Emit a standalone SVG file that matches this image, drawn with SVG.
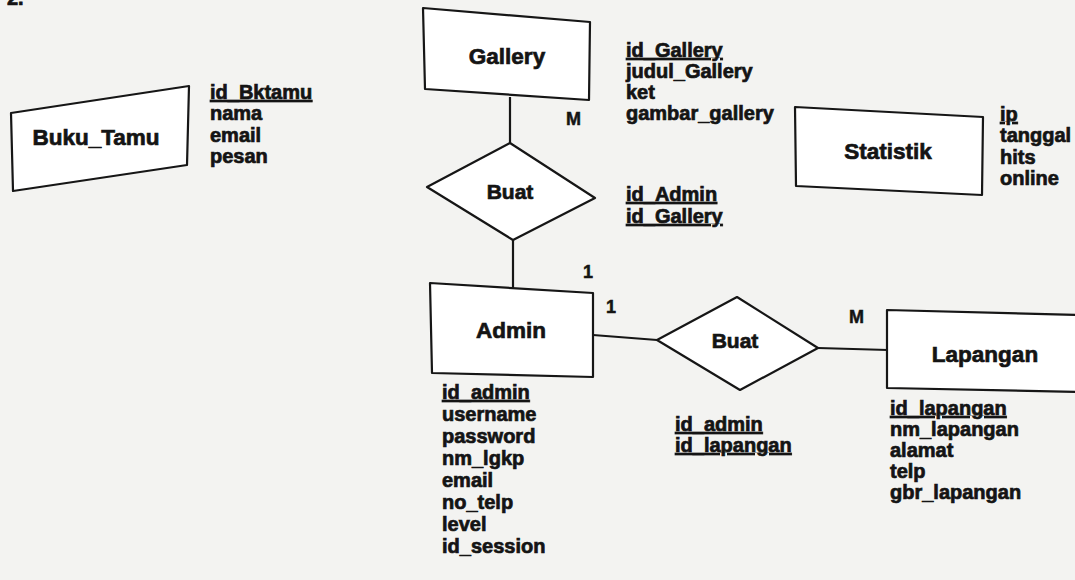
<svg xmlns="http://www.w3.org/2000/svg" width="1075" height="580" viewBox="0 0 1075 580">
  <style>
    .ent { fill: #ffffff; stroke: #161616; stroke-width: 2.2; stroke-linejoin: round; }
    .rel { fill: #ffffff; stroke: #161616; stroke-width: 2.2; stroke-linejoin: round; }
    .conn line { stroke: #161616; stroke-width: 2.2; }
    .lbl { font-family: "Liberation Sans", Arial, sans-serif; font-weight: bold; font-size: 22.5px; fill: #141414; stroke: #141414; stroke-width: 0.7; text-anchor: middle; }
    .attr { font-family: "Liberation Sans", Arial, sans-serif; font-weight: bold; font-size: 20px; fill: #141414; stroke: #141414; stroke-width: 0.7; }
    .key { text-decoration: underline; }
    .card { font-family: "Liberation Sans", Arial, sans-serif; font-weight: bold; font-size: 18px; fill: #141414; stroke: #141414; stroke-width: 0.5; }
  </style>

  <!-- paper -->
  <rect x="0" y="0" width="1075" height="580" fill="#f3f3f1"/>

  <!-- section number, cut at the top edge -->
  <text class="attr" x="7" y="5">2.</text>

  <!-- connectors -->
  <g id="connectors" class="conn">
    <line x1="510" y1="97" x2="510" y2="143"/>
    <line x1="513" y1="240" x2="513" y2="288"/>
    <line x1="593" y1="335" x2="657" y2="340"/>
    <line x1="818" y1="348" x2="888" y2="350"/>
  </g>

  <!-- cardinalities -->
  <g id="cardinality">
    <text class="card" x="566" y="125">M</text>
    <text class="card" x="583" y="278">1</text>
    <text class="card" x="606" y="313">1</text>
    <text class="card" x="849" y="323">M</text>
  </g>

  <!-- Buku_Tamu -->
  <g id="buku_tamu">
    <polygon class="ent" points="11,113 189,86 187,165 13,191"/>
    <text class="lbl" x="96" y="145">Buku_Tamu</text>
    <text class="attr key" x="210" y="99">id_Bktamu</text>
    <text class="attr" x="210" y="120">nama</text>
    <text class="attr" x="210" y="142">email</text>
    <text class="attr" x="210" y="163">pesan</text>
  </g>

  <!-- Gallery -->
  <g id="gallery">
    <polygon class="ent" points="423,8 590,22 589,100 425,89"/>
    <text class="lbl" x="507" y="64">Gallery</text>
    <text class="attr key" x="626" y="57">id_Gallery</text>
    <text class="attr" x="626" y="78">judul_Gallery</text>
    <text class="attr" x="626" y="99">ket</text>
    <text class="attr" x="626" y="120">gambar_gallery</text>
  </g>

  <!-- Buat (Admin - Gallery) -->
  <g id="buat_gallery">
    <polygon class="rel" points="510,143 595,198 513,240 427,187"/>
    <text class="lbl" x="510" y="199" style="font-size:21px">Buat</text>
    <text class="attr key" x="626" y="201">id_Admin</text>
    <text class="attr key" x="626" y="223">id_Gallery</text>
  </g>

  <!-- Statistik -->
  <g id="statistik">
    <polygon class="ent" points="795,107 983,117 982,195 796,186"/>
    <text class="lbl" x="888" y="159">Statistik</text>
    <text class="attr key" x="1000" y="121">ip</text>
    <text class="attr" x="1000" y="142">tanggal</text>
    <text class="attr" x="1000" y="164">hits</text>
    <text class="attr" x="1000" y="185">online</text>
  </g>

  <!-- Admin -->
  <g id="admin">
    <polygon class="ent" points="430,283 593,293 593,377 432,373"/>
    <text class="lbl" x="511" y="338">Admin</text>
    <text class="attr key" x="442" y="399">id_admin</text>
    <text class="attr" x="442" y="421">username</text>
    <text class="attr" x="442" y="443">password</text>
    <text class="attr" x="442" y="465">nm_lgkp</text>
    <text class="attr" x="442" y="487">email</text>
    <text class="attr" x="442" y="509">no_telp</text>
    <text class="attr" x="442" y="531">level</text>
    <text class="attr" x="442" y="553">id_session</text>
  </g>

  <!-- Buat (Admin - Lapangan) -->
  <g id="buat_lapangan">
    <polygon class="rel" points="657,340 737,297 818,348 740,390"/>
    <text class="lbl" x="735" y="348" style="font-size:21px">Buat</text>
    <text class="attr key" x="675" y="431">id_admin</text>
    <text class="attr key" x="675" y="452">id_lapangan</text>
  </g>

  <!-- Lapangan -->
  <g id="lapangan">
    <polygon class="ent" points="887,310 1080,315 1080,392 887,388"/>
    <text class="lbl" x="985" y="362">Lapangan</text>
    <text class="attr key" x="890" y="415">id_lapangan</text>
    <text class="attr" x="890" y="436">nm_lapangan</text>
    <text class="attr" x="890" y="457">alamat</text>
    <text class="attr" x="890" y="478">telp</text>
    <text class="attr" x="890" y="499">gbr_lapangan</text>
  </g>
</svg>
